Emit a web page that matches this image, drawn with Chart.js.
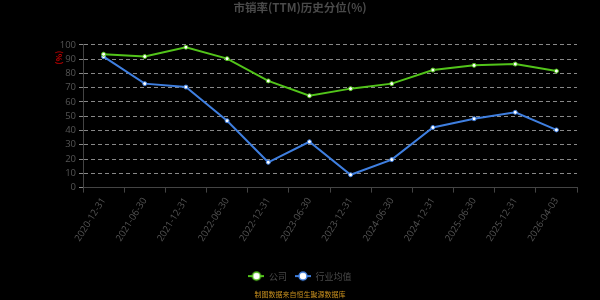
<!DOCTYPE html>
<html>
<head>
<meta charset="utf-8">
<script src="https://cdn.jsdelivr.net/npm/chart.js@4"></script>
<style>
  html, body { margin: 0; padding: 0; background: #000; }
  #wrap { width: 600px; height: 300px; }
</style>
</head>
<body>
<div id="wrap"><canvas id="myChart"></canvas></div>
<script>
const dates = [
  "2020-12-31", "2021-06-30", "2021-12-31", "2022-06-30", "2022-12-31", "2023-06-30",
  "2023-12-31", "2024-06-30", "2024-12-31", "2025-06-30", "2025-12-31", "2026-04-03",
];
const company = [93.4, 91.8, 98.3, 90.3, 74.7, 64.3, 69.3, 72.8, 82.3, 85.6, 86.5, 81.6];
const industry = [91.7, 72.8, 70.4, 46.8, 17.7, 32.1, 9.0, 19.6, 42.1, 48.2, 52.7, 40.4];

const green = "#52c41a";
const blue = "#3f7fe0";

// little legend icon: line with a circle in the middle
function legendIcon(color) {
  const c = document.createElement("canvas");
  c.width = 16;
  c.height = 12;
  const g = c.getContext("2d");
  g.strokeStyle = color;
  g.lineWidth = 2;
  g.beginPath();
  g.moveTo(0, 6);
  g.lineTo(16, 6);
  g.stroke();
  g.beginPath();
  g.arc(8, 6, 4, 0, Math.PI * 2);
  g.fillStyle = "#fff";
  g.fill();
  g.lineWidth = 1.5;
  g.stroke();
  return c;
}
const icons = [legendIcon(green), legendIcon(blue)];

// red "(%)" axis unit near top of y axis
const unitLabel = {
  id: "unitLabel",
  afterDraw(chart) {
    const ctx = chart.ctx;
    const y = chart.scales.y;
    ctx.save();
    ctx.translate(59, y.getPixelForValue(91));
    ctx.rotate(-Math.PI / 2);
    ctx.fillStyle = "#c00000";
    ctx.font = "bold 8px 'Noto Sans CJK SC', sans-serif";
    ctx.textAlign = "center";
    ctx.textBaseline = "middle";
    ctx.fillText("(%)", 0, 0);
    ctx.restore();
  },
};

const ctx = document.getElementById("myChart");

new Chart(ctx, {
  type: "line",
  data: {
    labels: dates,
    datasets: [
      {
        label: "公司",
        data: company,
        borderColor: green,
        backgroundColor: "#fff",
        borderWidth: 2,
        pointRadius: 2,
        pointBorderWidth: 1,
        pointBorderColor: green,
        pointBackgroundColor: "#fff",
        tension: 0,
      },
      {
        label: "行业均值",
        data: industry,
        borderColor: blue,
        backgroundColor: "#fff",
        borderWidth: 2,
        pointRadius: 2,
        pointBorderWidth: 1,
        pointBorderColor: blue,
        pointBackgroundColor: "#fff",
        tension: 0,
      },
    ],
  },
  plugins: [unitLabel],
  options: {
    responsive: true,
    maintainAspectRatio: false,
    animation: false,
    layout: { padding: { left: 23, right: 23, top: 0, bottom: 0 } },
    plugins: {
      title: {
        display: true,
        text: "市销率(TTM)历史分位(%)",
        color: "#4a4a4a",
        font: { size: 11.5, weight: "bold", family: "'Noto Sans CJK SC', sans-serif" },
        padding: { top: 1, bottom: 30 },
      },
      subtitle: {
        display: true,
        position: "bottom",
        text: "制图数据来自恒生聚源数据库",
        color: "#c8901e",
        font: { size: 7, family: "'Noto Sans CJK SC', sans-serif" },
        padding: { top: 0, bottom: 1 },
      },
      legend: {
        position: "bottom",
        labels: {
          usePointStyle: true,
          pointStyleWidth: 16,
          color: "#4a4a4a",
          font: { size: 9, family: "'Noto Sans CJK SC', sans-serif" },
          padding: 8,
          generateLabels(chart) {
            return chart.data.datasets.map((ds, i) => ({
              text: ds.label,
              fontColor: "#4a4a4a",
              pointStyle: icons[i],
              datasetIndex: i,
              hidden: false,
            }));
          },
        },
      },
      tooltip: { enabled: false },
    },
    scales: {
      x: {
        offset: true,
        afterFit(scale) {
          scale.height = 76;
        },
        grid: {
          display: true,
          drawOnChartArea: false,
          color: "#444",
          tickLength: 5,
          offset: true,
        },
        border: { color: "#444" },
        ticks: {
          color: "#555",
          font: { size: 9.5, family: "'Open Sans', sans-serif" },
          minRotation: 58,
          maxRotation: 58,
          autoSkip: false,
        },
      },
      y: {
        min: 0,
        max: 100,
        afterFit(scale) {
          scale.width = 60;
        },
        grid: {
          color: "#888",
          tickLength: 4,
          drawTicks: true,
        },
        border: { color: "#444", dash: [4, 3] },
        ticks: {
          stepSize: 10,
          autoSkip: false,
          color: "#555",
          font: { size: 9.5, family: "'Open Sans', sans-serif" },
          padding: 3,
        },
      },
    },
  },
});
</script>
</body>
</html>
